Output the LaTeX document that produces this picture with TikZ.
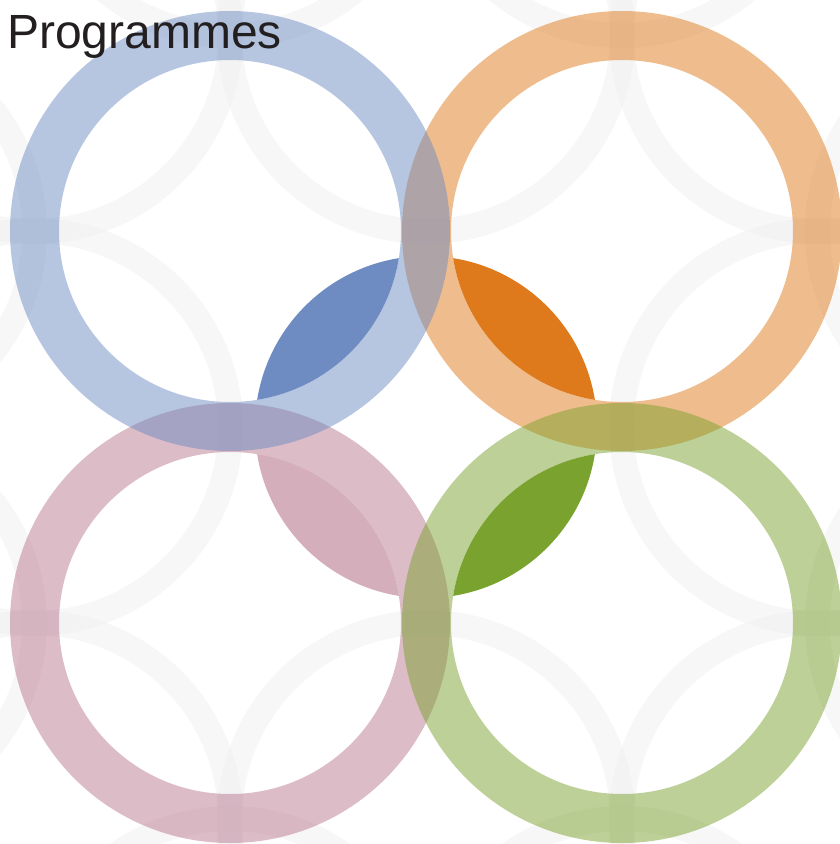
\documentclass[tikz,border=0pt]{standalone}
\usepackage{fontspec}
\setmainfont{Liberation Sans}

\definecolor{prog-blue}{RGB}{110, 140, 194}
\definecolor{prog-orange}{RGB}{223, 122, 28}
\definecolor{prog-pink}{RGB}{185, 121, 143}
\definecolor{prog-pink-lens}{RGB}{213, 174, 187}
\definecolor{prog-green}{RGB}{122, 162, 47}
\definecolor{faint-grey}{RGB}{236, 236, 236}
\definecolor{title-grey}{RGB}{35, 31, 32}

\begin{document}
\begin{tikzpicture}[
        x=1pt, y=-1pt,
        ring/.style={line width=49pt, draw opacity=0.5},
        faint ring/.style={line width=25pt, draw=faint-grey, draw opacity=0.4},
        title/.style={anchor=base west, inner sep=0pt, text=title-grey,
            font=\fontsize{48}{56}\selectfont},
    ]
    \useasboundingbox (0,0) rectangle (840,844);
    \clip (0,0) rectangle (840,844);

    % faint pattern behind
    \foreach \cx/\cy in {34/35, 426/35, 818/35, 34/427, 818/427, 34/819, 426/819, 818/819,
            230/-161, 622/-161, -162/231, 1014/231, -162/623, 1014/623, 230/1015, 622/1015}
        \draw[faint ring] (\cx,\cy) circle (196.5pt);

    % lenses
    \begin{scope}
        \clip (426,427) circle (171pt);
        \fill[prog-blue] (230,231) circle (171pt);
        \fill[prog-orange] (622,231) circle (171pt);
        \fill[prog-pink-lens] (230,623) circle (171pt);
        \fill[prog-green] (622,623) circle (171pt);
    \end{scope}

    % rings (order gives the overlap tints)
    \draw[ring, prog-orange] (622,231) circle (195.5pt);
    \draw[ring, prog-pink] (230,623) circle (195.5pt);
    \draw[ring, prog-green] (622,623) circle (195.5pt);
    \draw[ring, prog-blue] (230,231) circle (195.5pt);

    \node[title] (heading) at (7,48) {Programmes};
\end{tikzpicture}
\end{document}
